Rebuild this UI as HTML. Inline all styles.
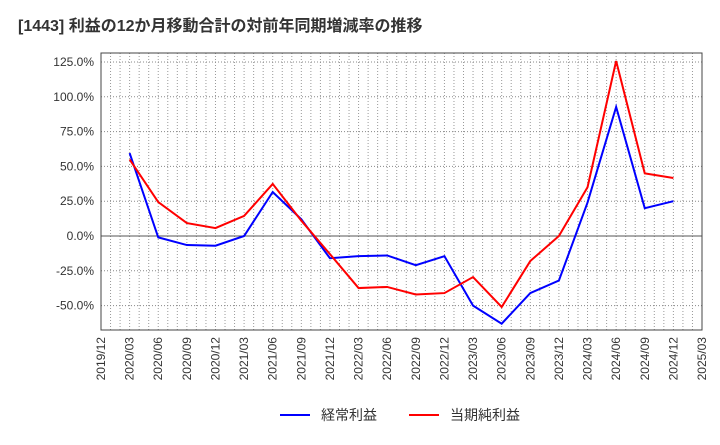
<!DOCTYPE html>
<html><head><meta charset="utf-8"><style>
body{margin:0;background:#fff;font-family:"Liberation Sans","Noto Sans CJK JP",sans-serif}
</style></head><body>
<svg id="c" width="720" height="440" xmlns="http://www.w3.org/2000/svg" font-family="Liberation Sans, Noto Sans CJK JP, sans-serif">
<text x="18" y="31" font-size="16" font-weight="bold" fill="#333">[1443]  利益の12か月移動合計の対前年同期増減率の推移</text>
<g id="grid"></g><g id="axes"></g><g id="series"></g>
<g>
<line x1="280" y1="415" x2="310" y2="415" stroke="#0000ff" stroke-width="2"/>
<text x="321" y="420" font-size="14" fill="#333">経常利益</text>
<line x1="409" y1="415" x2="439" y2="415" stroke="#ff0000" stroke-width="2"/>
<text x="450" y="420" font-size="14" fill="#333">当期純利益</text>
</g>
</svg>
<script>
const xLabels=["2019/12","2020/03","2020/06","2020/09","2020/12","2021/03","2021/06","2021/09","2021/12","2022/03","2022/06","2022/09","2022/12","2023/03","2023/06","2023/09","2023/12","2024/03","2024/06","2024/09","2024/12","2025/03"];
const yTicks=[-50,-25,0,25,50,75,100,125];
const ordinary=[59.6,-1,-6.5,-7,0,31.6,12,-16,-14.5,-14,-21,-14.5,-50,-63,-41,-32,24,92.7,20,25];
const net=[55,24.4,9.3,5.7,14.4,37.4,11,-13,-37.4,-36.6,-42,-41,-29.5,-51,-18,0,35,125.7,45,41.7];
const L=101,R=702,T=53,B=330;
const xs=i=>L+(R-L)*i/(xLabels.length-1);
const ys=v=>236-v*34.8/25;
const NS="http://www.w3.org/2000/svg";
function mk(tag,attrs,parent){const e=document.createElementNS(NS,tag);for(const k in attrs)e.setAttribute(k,attrs[k]);parent.appendChild(e);return e;}
const g=document.getElementById('grid'),a=document.getElementById('axes'),s=document.getElementById('series');
for(let m=1;m<63;m++){const x=L+(R-L)*m/63;
const l=mk('line',{x1:x,x2:x,y1:T,y2:B,stroke:'#999','stroke-dasharray':'1,2'},g);

}
yTicks.forEach(v=>{const y=ys(v);
const l=mk('line',{x1:L,x2:R,y1:y,y2:y,stroke:v===0?'#555':'#888','stroke-dasharray':v===0?'none':'1,2'},g);


const t=mk('text',{x:L-7,y:y+4,'text-anchor':'end','font-size':'12',fill:'#333'},a);t.textContent=v.toFixed(1)+'%';

});
const fr=mk('rect',{x:L,y:T,width:R-L,height:B-T,fill:'none',stroke:'#444'},a);


xLabels.forEach((lb,i)=>{const x=xs(i);
const t=mk('text',{x:x+4,y:B+7,'text-anchor':'end','font-size':'12',fill:'#333',transform:`rotate(-90 ${x+4} ${B+7})`},a);t.textContent=lb;

});
function line(d,col,name){const p=mk('polyline',{points:d.map((v,i)=>xs(i+1)+','+ys(v)).join(' '),fill:'none',stroke:col,'stroke-width':2},s);

}
line(ordinary,'#0000ff','series-ordinary-profit');
line(net,'#ff0000','series-net-profit');
</script>
</body></html>
